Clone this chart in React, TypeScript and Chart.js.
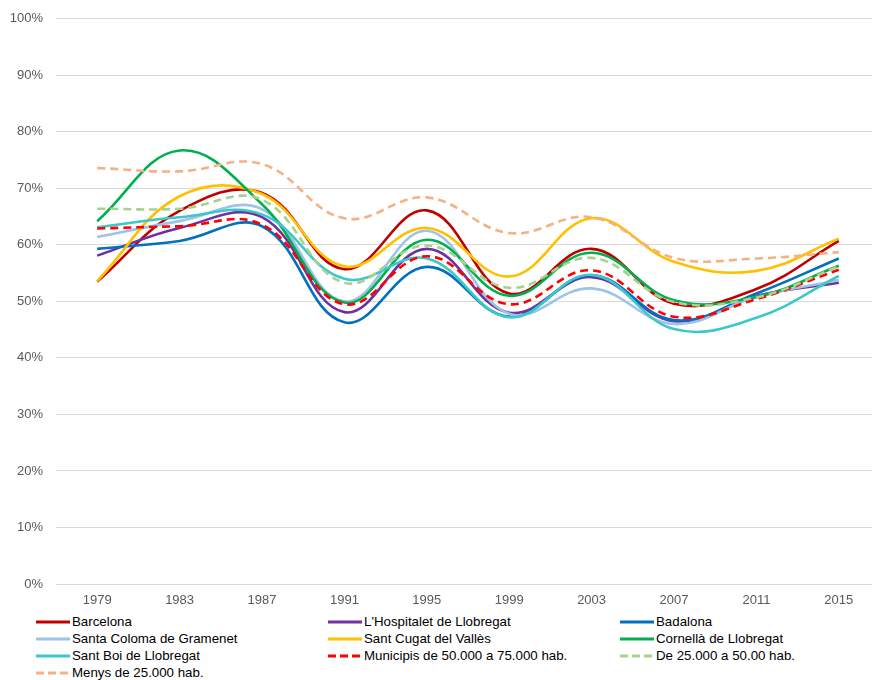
import React, { useEffect, useRef } from "react";
import { Chart, registerables } from "chart.js";

Chart.register(...registerables);

const years = ["1979", "1983", "1987", "1991", "1995", "1999", "2003", "2007", "2011", "2015"];
const yTicks = [0, 10, 20, 30, 40, 50, 60, 70, 80, 90, 100];

const barcelona = [53.5, 66.0, 69.2, 55.7, 66.1, 51.4, 59.3, 49.6, 52.2, 60.7];
const hospitalet = [58.1, 63.0, 64.9, 48.1, 59.3, 48.0, 54.3, 46.5, 51.0, 53.3];
const badalona = [59.3, 60.7, 63.3, 46.3, 56.1, 47.3, 54.6, 46.7, 51.4, 57.6];
const santaColoma = [61.4, 64.2, 66.3, 50.0, 62.5, 47.8, 52.3, 46.0, 50.8, 53.8];
const santCugat = [53.6, 68.6, 69.0, 56.2, 63.0, 54.4, 64.7, 57.0, 55.4, 61.1];
const cornella = [64.2, 76.7, 67.2, 49.8, 60.9, 51.0, 58.6, 50.2, 50.8, 56.3];
const santBoi = [63.1, 64.9, 65.4, 54.0, 57.6, 47.2, 54.7, 45.1, 47.1, 54.5];
const municipis50a75 = [62.9, 63.3, 63.6, 49.5, 58.0, 49.5, 55.5, 47.3, 50.4, 55.6];
const de25a50 = [66.4, 66.4, 68.0, 53.3, 59.9, 52.4, 57.7, 49.9, 50.7, 56.2];
const menys25 = [73.6, 73.0, 74.3, 64.7, 68.4, 62.1, 64.9, 57.7, 57.6, 58.7];

const seriesNames = [
  "Barcelona",
  "L'Hospitalet de Llobregat",
  "Badalona",
  "Santa Coloma de Gramenet",
  "Sant Cugat del Vallès",
  "Cornellà de Llobregat",
  "Sant Boi de Llobregat",
  "Municipis de 50.000 a 75.000 hab.",
  "De 25.000 a 50.00 hab.",
  "Menys de 25.000 hab.",
];
const seriesData = [barcelona, hospitalet, badalona, santaColoma, santCugat, cornella, santBoi, municipis50a75, de25a50, menys25];
const seriesColors = ["#C00000", "#7030A0", "#0070C0", "#9DC3E6", "#FFC000", "#00B050", "#3CC8C8", "#FF0000", "#A9D18E", "#F4B183"];
const seriesDashed = [false, false, false, false, false, false, false, true, true, true];

const FONT = "'Liberation Sans', Arial, sans-serif";

export default function App() {
  const ref = useRef<HTMLCanvasElement | null>(null);

  useEffect(() => {
    if (!ref.current) return;
    const chart = new Chart(ref.current, {
      type: "line",
      data: {
        labels: years,
        datasets: seriesNames.map((name, i) => ({
          label: name,
          data: seriesData[i],
          borderColor: seriesColors[i],
          backgroundColor: seriesColors[i],
          borderWidth: 2.6,
          borderDash: seriesDashed[i] ? [8, 5] : [],
          pointRadius: 0,
          tension: 0.4,
          fill: false,
          order: seriesNames.length - i,
        })),
      },
      options: {
        responsive: false,
        animation: false,
        layout: { padding: { top: 12, right: 2, bottom: 0, left: 0 } },
        plugins: { legend: { display: false }, title: { display: false }, tooltip: { enabled: false } },
        scales: {
          x: {
            offset: true,
            grid: { display: false, drawTicks: false },
            border: { display: true, color: "#D9D9D9", width: 1 },
            ticks: { color: "#595959", font: { family: FONT, size: 13 }, padding: 9, maxRotation: 0 },
            afterFit: (s: any) => { s.height = 26; },
          },
          y: {
            min: 0,
            max: 100,
            afterBuildTicks: (s: any) => { s.ticks = yTicks.map((v) => ({ value: v })); },
            grid: { color: "#D9D9D9", lineWidth: 1, drawTicks: false },
            border: { display: false },
            ticks: {
              color: "#595959",
              font: { family: FONT, size: 13 },
              padding: 13,
              callback: (v: any) => `${v}%`,
            },
            afterFit: (s: any) => { s.width = 56; },
          },
        },
      },
    });
    return () => chart.destroy();
  }, []);

  const legendRows: number[][] = [];
  for (let i = 0; i < seriesNames.length; i += 3) legendRows.push([i, i + 1, i + 2].filter((k) => k < seriesNames.length));

  return (
    <div style={{ position: "absolute", left: 0, top: 0, width: 872, height: 680, background: "#fff", overflow: "hidden" }}>
      <canvas
        ref={ref}
        width={882}
        height={612}
        style={{ position: "absolute", left: 0, top: -2, display: "block", width: 882, height: 612 }}
      />
      <div style={{ position: "absolute", left: 36, top: 613, fontFamily: FONT, fontSize: 13.3, color: "#000" }}>
        {legendRows.map((row, r) => (
          <div key={r} style={{ display: "flex", height: 17, alignItems: "center" }}>
            {row.map((k) => (
              <div key={k} style={{ display: "flex", alignItems: "center", width: 292 }}>
                <svg width={34} height={6} style={{ marginRight: 2 }}>
                  <line
                    x1={0}
                    y1={3}
                    x2={34}
                    y2={3}
                    stroke={seriesColors[k]}
                    strokeWidth={3}
                    strokeDasharray={seriesDashed[k] ? "8 4" : undefined}
                  />
                </svg>
                <span style={{ whiteSpace: "nowrap" }}>{seriesNames[k]}</span>
              </div>
            ))}
          </div>
        ))}
      </div>
    </div>
  );
}
